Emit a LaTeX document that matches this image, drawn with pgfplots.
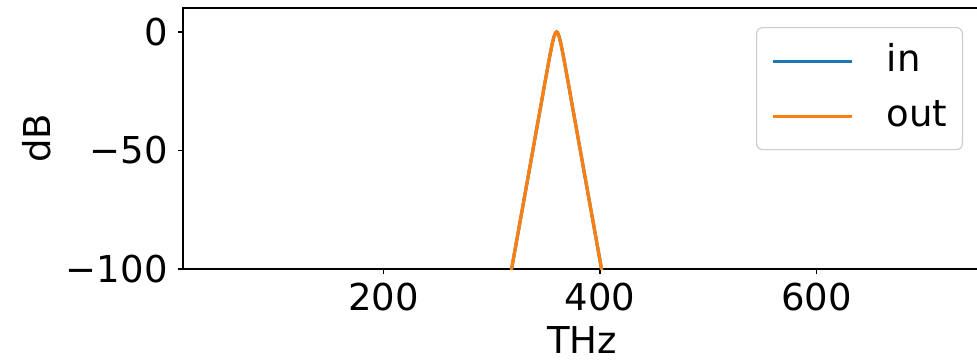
\documentclass[border=0pt]{standalone}
\usepackage{pgfplots}
\pgfplotsset{compat=1.18}
\usepackage{fontspec}
\setmainfont{DejaVu Sans}
\definecolor{tabblue}{HTML}{1F77B4}
\definecolor{taborange}{HTML}{FF7F0E}
\newcommand{\fs}{\fontsize{18.5pt}{22pt}\selectfont}
\pgfplotstableread{
f dB
300 -147.2
310 -121.7
318 -101.2
322 -91.0
326 -80.8
330 -70.6
334 -60.4
338 -50.2
342 -39.9
346 -29.8
349 -22.0
352 -14.5
354 -9.52
356 -4.99
357.5 -2.16
359 -0.37
360 0
361 -0.37
362.5 -2.16
364 -4.99
366 -9.52
368 -14.5
371 -22.0
374 -29.8
378 -39.9
382 -50.2
386 -60.4
390 -70.6
394 -80.8
398 -91.0
402 -101.2
410 -121.7
420 -147.2
}\spec
\begin{document}
\begin{tikzpicture}
\begin{axis}[
  at={(0,0)}, anchor=south west,
  scale only axis, width=399pt, height=130.5pt,
  xmin=15, xmax=752, ymin=-100, ymax=10.1,
  xtick={200,400,600}, xticklabels={200,400,600},
  ytick={-100,-50,0}, yticklabels={−100,−50,0},
  tick align=outside, major tick length=2.5pt,
  xtick pos=bottom, ytick pos=left,
  axis line style={line width=0.8pt},
  tick style={line width=0.8pt, black},
  tick label style={font=\fs},
  yticklabel style={anchor=east, inner sep=0pt, xshift=-5pt},
  xticklabel style={anchor=north, inner sep=0pt, yshift=-4.5pt},
  xlabel={THz}, ylabel={dB},
  label style={font=\fs},
  xlabel style={at={(axis description cs:0.5,0)}, anchor=center, yshift=-35.5pt},
  ylabel style={at={(axis description cs:-0.183,0.5)}, anchor=center, rotate=0},
  legend cell align=left,
  legend style={font=\fs, at={(1,1)}, anchor=north east, xshift=-9pt, yshift=-9.5pt,
    draw=black!20, rounded corners=3pt, line width=0.6pt,
    inner xsep=7.5pt, inner ysep=7.75pt,
    nodes={inner sep=0pt, text height=14pt, text depth=4pt},
    column sep=16.5pt, row sep=9.5pt},
  legend image code/.code={\draw[#1] (0pt,0pt) -- (39.5pt,0pt);},
]
\addplot[color=tabblue, line width=1.6pt] table[x=f,y=dB]{\spec};
\addlegendentry{in}
\addplot[color=taborange, line width=1.6pt] table[x=f,y=dB]{\spec};
\addlegendentry{out}
\end{axis}
\pgfresetboundingbox
\path[use as bounding box] (-91.5pt,-46pt) rectangle (397pt,134.5pt);
\end{tikzpicture}
\end{document}
